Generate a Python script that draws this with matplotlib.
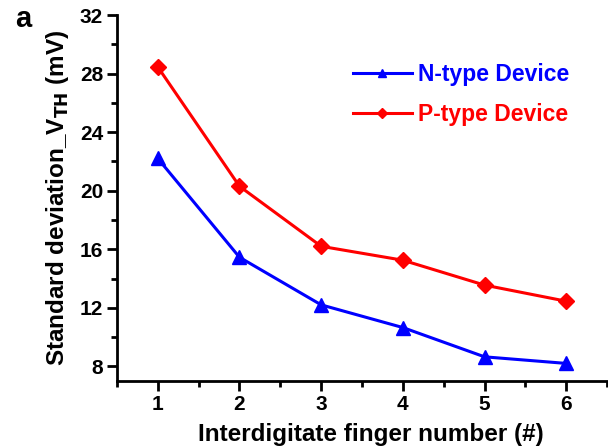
import matplotlib
matplotlib.use('Agg')
import matplotlib.pyplot as plt
from matplotlib.ticker import MultipleLocator

plt.rcParams['font.family'] = ['Liberation Sans', 'DejaVu Sans']
plt.rcParams['font.weight'] = 'bold'

fingers = [1, 2, 3, 4, 5, 6]
n_type = [22.2, 15.45, 12.2, 10.65, 8.65, 8.2]
p_type = [28.45, 20.3, 16.2, 15.25, 13.55, 12.45]

fig = plt.figure(figsize=(6.08, 4.47), dpi=100)
ax = fig.add_axes([0.1924, 0.1477, 0.806, 0.8187])

ax.plot(fingers, n_type, color='#0000ff', lw=2.2, marker='^', ms=10, label='N-type Device')
ax.plot(fingers, p_type, color='#ff0000', lw=2.2, marker='D', ms=8.5, label='P-type Device')

ax.set_xlim(0.5, 6.5)
ax.set_ylim(7, 32)
ax.xaxis.set_major_locator(MultipleLocator(1))
ax.xaxis.set_minor_locator(MultipleLocator(0.5))
ax.yaxis.set_major_locator(MultipleLocator(4))
ax.yaxis.set_minor_locator(MultipleLocator(2))

for s in ['top', 'right']:
    ax.spines[s].set_visible(False)
for s in ['left', 'bottom']:
    ax.spines[s].set_linewidth(2)

ax.tick_params(which='major', direction='out', length=7, width=2, labelsize=15, pad=3)
ax.tick_params(which='minor', direction='out', length=4, width=2)
for lab in ax.get_xticklabels() + ax.get_yticklabels():
    lab.set_fontweight('bold')

ax.set_xlabel('Interdigitate finger number (#)', fontsize=17.5, fontweight='bold', labelpad=6)
ax.xaxis.set_label_coords(0.518, -0.115)
ax.set_ylabel('Standard deviation_V$_{\\mathbf{TH}}$ (mV)', fontsize=17.5, fontweight='bold', labelpad=6)

leg = ax.legend(loc='upper right', bbox_to_anchor=(0.965, 0.925), frameon=False, fontsize=16.5,
                handlelength=2.6, markerscale=0.6, labelspacing=0.75, handletextpad=0.25)
for txt, c in zip(leg.get_texts(), ['#0000ff', '#ff0000']):
    txt.set_color(c)
    txt.set_fontweight('bold')

fig.text(0.025, 0.94, 'a', fontsize=21, fontweight='bold')

fig.savefig('out.png', dpi=100)
